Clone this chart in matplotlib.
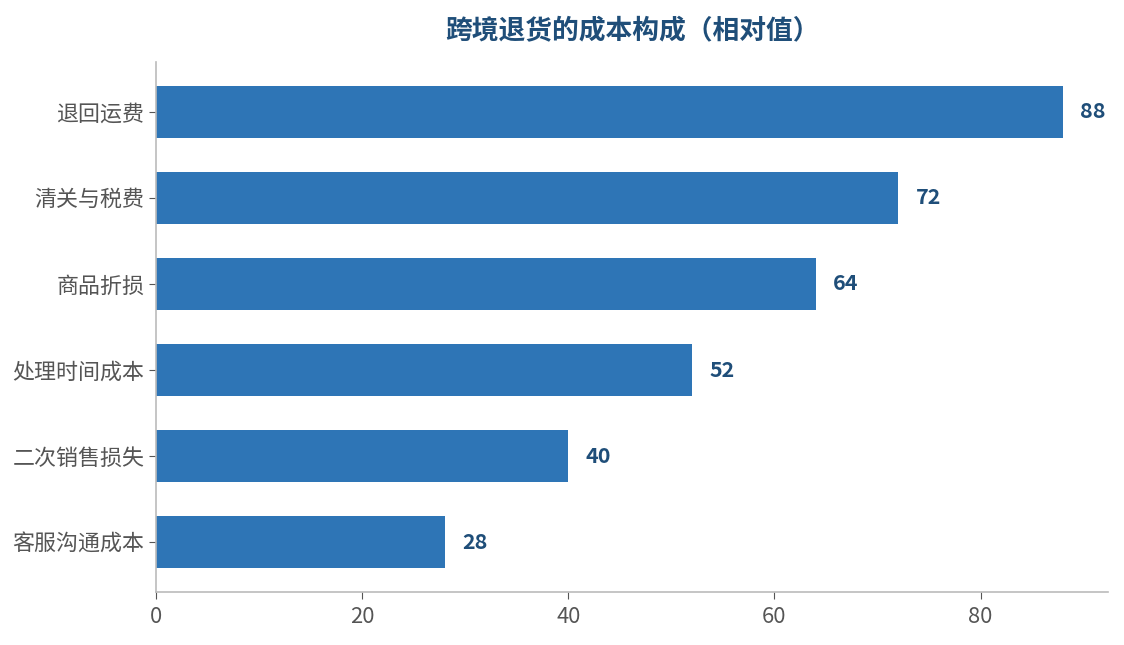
import matplotlib
matplotlib.use('Agg')
import matplotlib.pyplot as plt

plt.rcParams['font.family'] = ['Noto Sans CJK SC', 'DejaVu Sans']

categories = ['退回运费', '清关与税费', '商品折损', '处理时间成本', '二次销售损失', '客服沟通成本']
values = [88, 72, 64, 52, 40, 28]

bar_color = '#2E75B6'
dark_blue = '#1F4E79'

fig = plt.figure(figsize=(11.24, 6.45), dpi=100)
ax = fig.add_axes([0.139, 0.082, 0.847, 0.822])

# bottom to top, so the largest bar ends up on top
cats = categories[::-1]
vals = values[::-1]
ax.barh(cats, vals, height=0.6, color=bar_color)

for i, v in enumerate(vals):
    ax.text(v + 1.7, i, str(v), va='center', ha='left',
            fontsize=15.5, fontweight='bold', color=dark_blue)

ax.set_xlim(0, max(values) * 1.05)
ax.set_xticks([0, 20, 40, 60, 80])

ax.set_title('跨境退货的成本构成（相对值）', fontsize=19.3, fontweight='bold',
             color=dark_blue, pad=16)

for side in ['top', 'right']:
    ax.spines[side].set_visible(False)
for side in ['left', 'bottom']:
    ax.spines[side].set_color('#BBBBBB')
    ax.spines[side].set_linewidth(1.2)

ax.tick_params(axis='both', labelsize=15.8, colors='#555555', length=5)
ax.tick_params(axis='x', pad=5)

fig.savefig('out.png', dpi=100)
